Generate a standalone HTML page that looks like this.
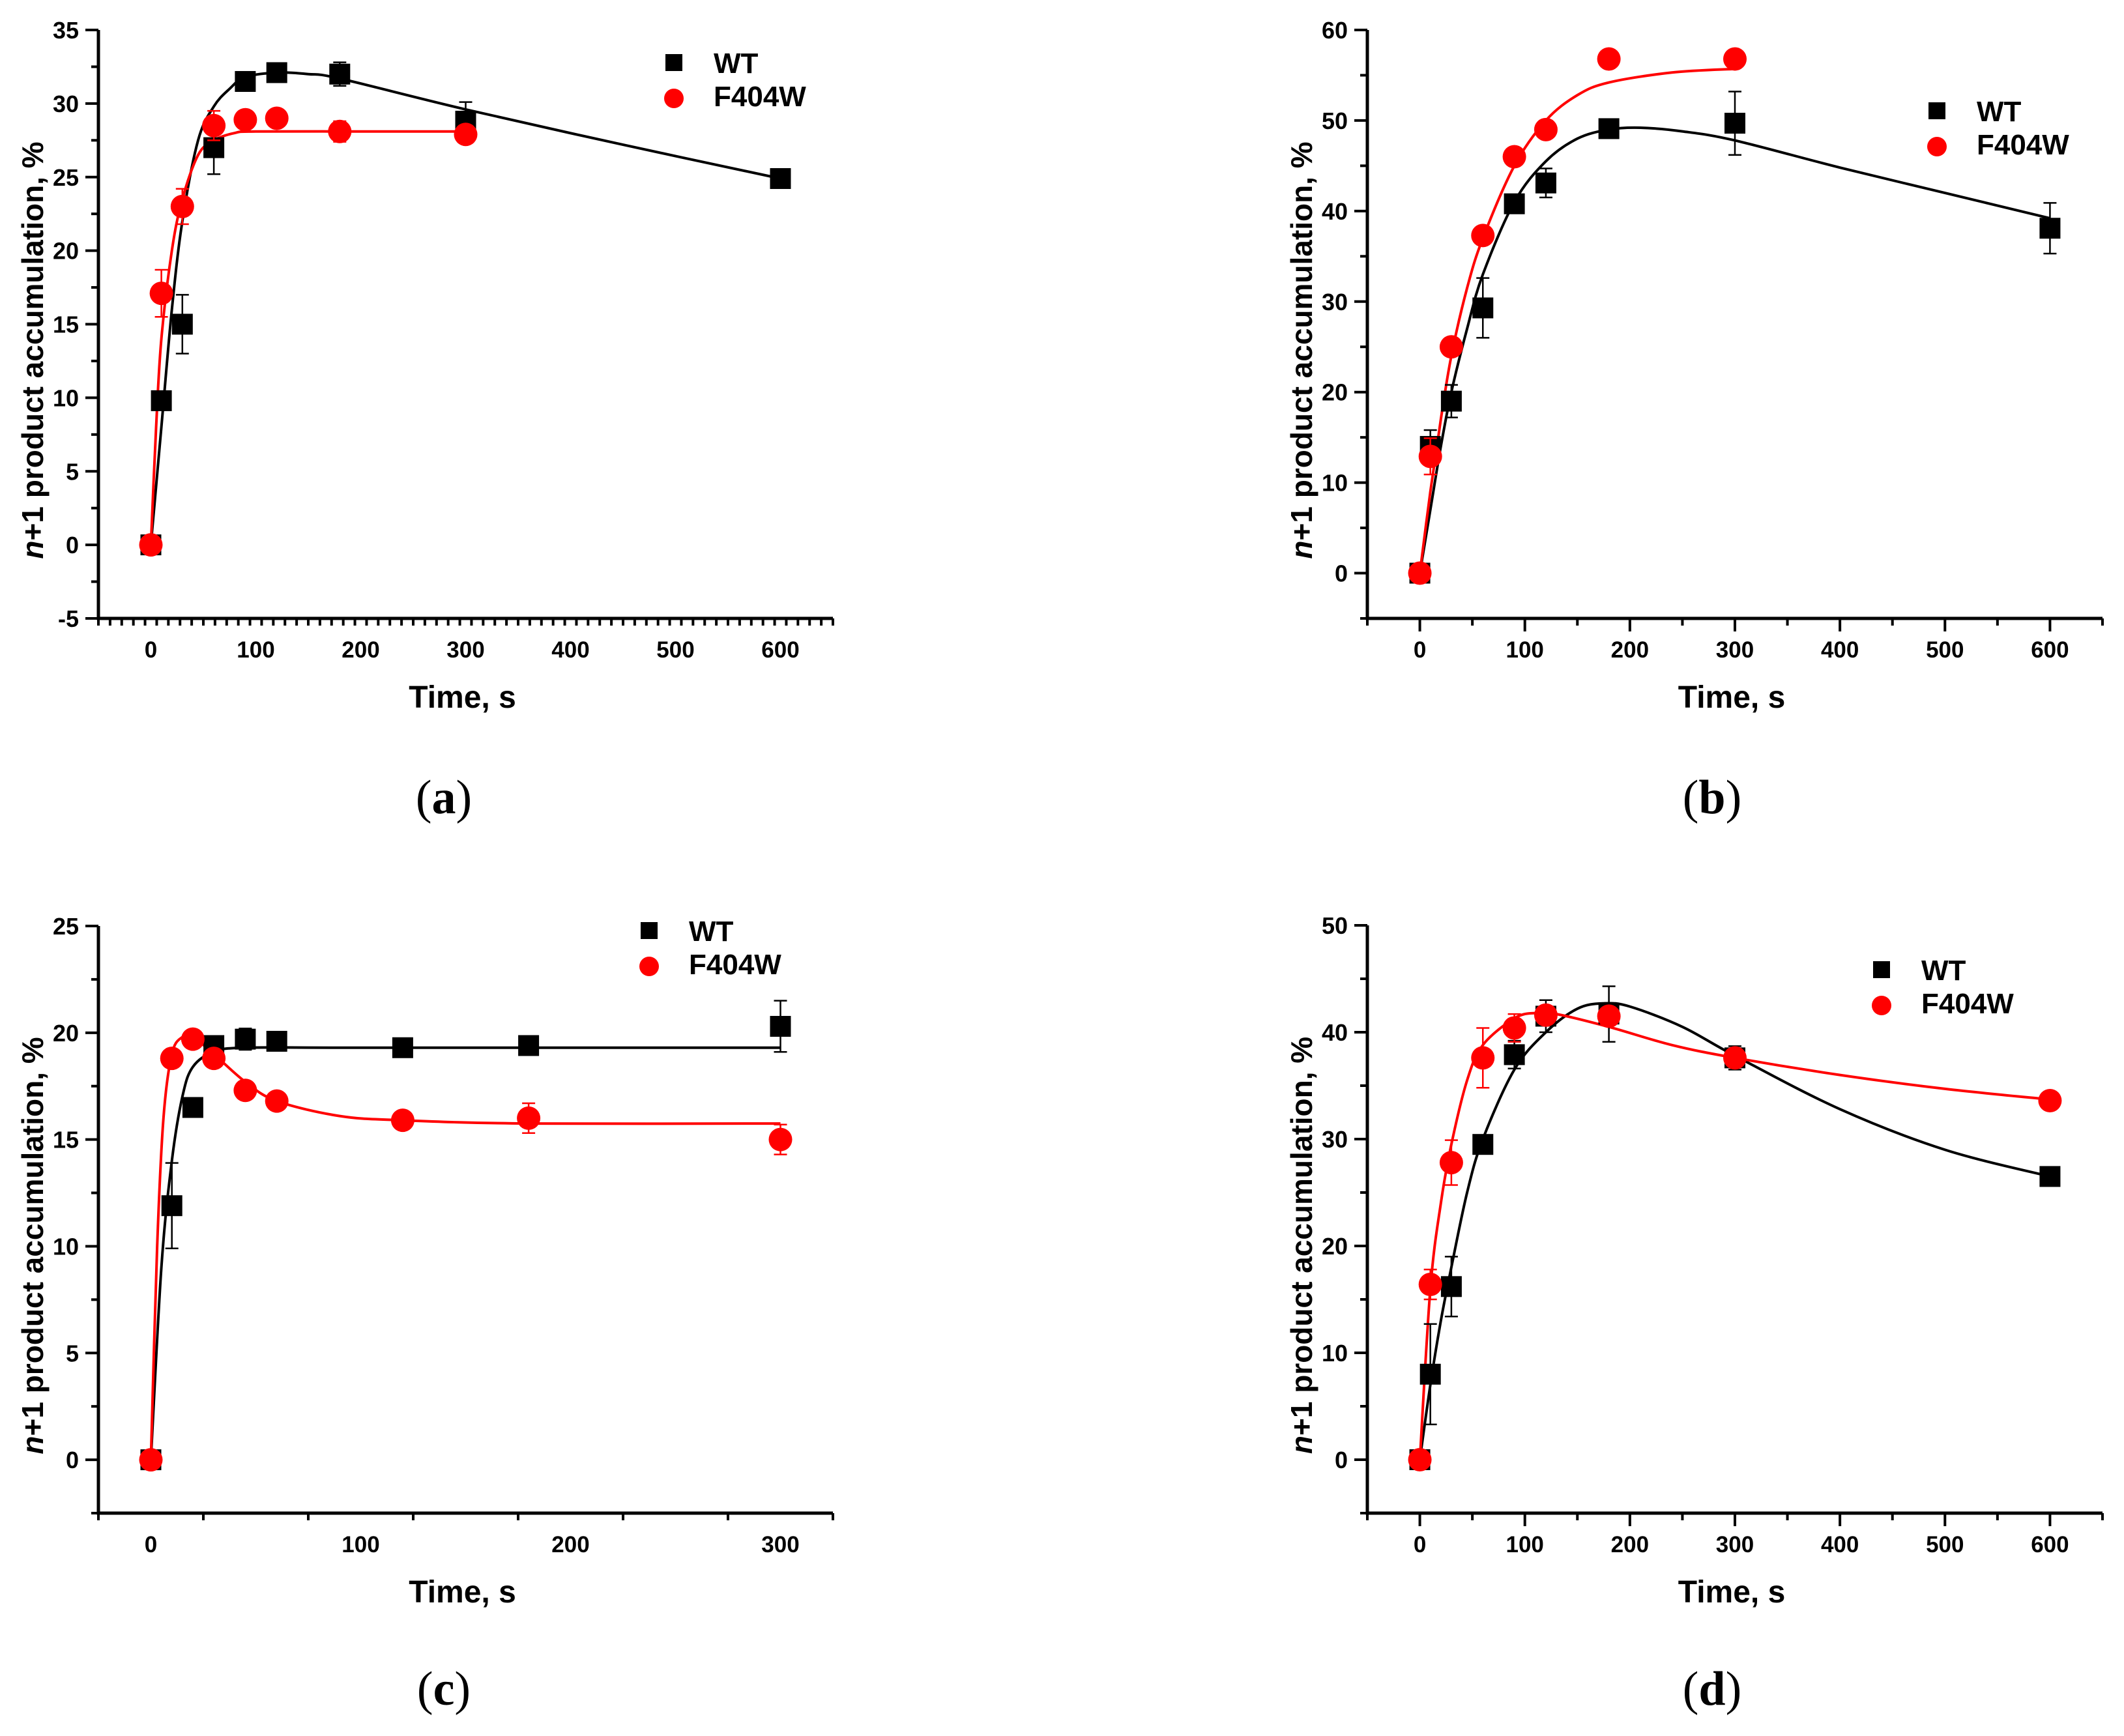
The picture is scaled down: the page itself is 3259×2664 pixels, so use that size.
<!DOCTYPE html>
<html><head><meta charset="utf-8"><style>
html,body{margin:0;padding:0;background:#fff}
svg{display:block}
text{font-family:"Liberation Sans",Arial,sans-serif;font-weight:bold}
.lab{font-family:"Liberation Serif",serif;font-weight:normal}
</style></head><body>
<svg id="fig" width="3259" height="2664" viewBox="0 0 3259 2664" xmlns="http://www.w3.org/2000/svg"></svg>
<script>
// ---- Panel (a) data ----
const aWT_t=[0,10,30,60,90,120,180,300,600];
const aWT_v=[0,9.8,15,27,31.5,32.1,32,28.8,24.9];
const aWT_e=[0,0,2,1.8,0,0,0.8,1.3,0];
const aF_t=[0,10,30,60,90,120,180,300];
const aF_v=[0,17.1,23,28.5,28.9,29,28.1,27.9];
const aF_e=[0,1.6,1.2,1,0.5,0,0.7,0];
const aWTfit_t=[0,10,20,30,45,60,75,90,120,150,180,300,450,600];
const aWTfit_v=[0,8,16,22,27.5,29.8,31,31.8,32.1,32,31.7,29.6,27.2,24.9];
const aFfit_t=[0,5,10,20,30,45,60,80,100,200,300];
const aFfit_v=[0,8,14,20,23.5,26.5,27.5,28,28.1,28.1,28.1];
// ---- Panel (b) data ----
const bWT_t=[0,10,30,60,90,120,180,300,600];
const bWT_v=[0,14,19,29.3,40.8,43.1,49.1,49.7,38.1];
const bWT_e=[0,1.8,1.8,3.3,0.5,1.6,0,3.5,2.8];
const bF_t=[0,10,30,60,90,120,180,300];
const bF_v=[0,12.9,25,37.3,46,49,56.8,56.8];
const bF_e=[0,2,0,0,0,0,0,0];
const bWTfit_t=[0,10,20,30,45,60,90,120,150,180,210,250,300,400,500,600];
const bWTfit_v=[0,7,14,20,27,33,41,45.5,48,49,49.2,48.8,47.8,44.8,42,39.2];
const bFfit_t=[0,10,20,30,45,60,90,120,150,180,240,300];
const bFfit_v=[0,9,17,24,31.5,37,45,50,52.8,54.2,55.3,55.7];
// ---- Panel (c) data ----
const cWT_t=[0,10,20,30,45,60,120,180,300];
const cWT_v=[0,11.9,16.5,19.4,19.7,19.6,19.3,19.4,20.3];
const cWT_e=[0,2,0,0,0.5,0,0,0,1.2];
const cF_t=[0,10,20,30,45,60,120,180,300];
const cF_v=[0,18.8,19.7,18.8,17.3,16.8,15.9,16,15];
const cF_e=[0,0,0,0,0,0,0,0.7,0.7];
const cWTfit_t=[0,5,10,15,20,30,45,100,300];
const cWTfit_v=[0,9,14,17,18.4,19.1,19.3,19.3,19.3];
const cFfit_t=[0,3,6,10,15,20,30,45,60,90,120,180,300];
const cFfit_v=[0,10,16,19,19.8,19.8,19,17.7,16.8,16.1,15.9,15.75,15.75];
// ---- Panel (d) data ----
const dWT_t=[0,10,30,60,90,120,180,300,600];
const dWT_v=[0,8,16.2,29.5,37.9,41.5,41.7,37.6,26.5];
const dWT_e=[0,4.7,2.8,0,1.3,1.5,2.6,1.1,0];
const dF_t=[0,10,30,60,90,120,180,300,600];
const dF_v=[0,16.4,27.8,37.6,40.4,41.6,41.5,37.6,33.6];
const dF_e=[0,1.4,2.1,2.8,1.3,0,0,0,0];
const dWTfit_t=[0,10,20,30,45,60,90,120,150,175,200,250,300,400,500,600];
const dWTfit_v=[0,7,13,18,25,30,36.5,40,42.2,42.7,42.4,40.5,37.8,32.8,29,26.5];
const dFfit_t=[0,10,20,30,45,60,90,110,130,180,240,300,400,500,600];
const dFfit_v=[0,16,24,29.5,35.5,38.8,41.3,41.8,41.7,40.5,38.8,37.6,36,34.7,33.7];
// axis ticks
const aYticks=[-5,0,5,10,15,20,25,30,35];
const bYticks=[0,10,20,30,40,50,60];
const cYticks=[0,5,10,15,20,25];
const dYticks=[0,10,20,30,40,50];
const xTicks600=[0,100,200,300,400,500,600];
const xTicks300=[0,100,200,300];

const NS="http://www.w3.org/2000/svg";
const svg=document.getElementById('fig');
function mk(tag,attrs,parent){const e=document.createElementNS(NS,tag);for(const k in attrs)e.setAttribute(k,attrs[k]);(parent||svg).appendChild(e);return e;}

function panel(P){
  const g=mk('g',{});
  
  
  const X=v=>P.x0+(v-P.xmin)/(P.xmax-P.xmin)*(P.x1-P.x0);
  const Y=v=>P.y0-(v-P.ymin)/(P.ymax-P.ymin)*(P.y0-P.y1);
  // axes
  const ax=mk('path',{d:`M${P.x0},${P.y1} V${P.y0} H${P.x1}`,stroke:'#000','stroke-width':5,fill:'none'},g);
  
  
  // y minor/major ticks
  for(let v=P.ymin;v<=P.ymax+1e-9;v+=P.yminor){
    const major=P.yticks.some(t=>Math.abs(t-v)<1e-6)||Math.abs(v-P.ymin)<1e-6&&P.ymajorAtMin;
    mk('line',{x1:P.x0,x2:P.x0-(major?20:11),y1:Y(v),y2:Y(v),stroke:'#000','stroke-width':4},g);
  }
  P.yticks.forEach(t=>{
    const tx=mk('text',{x:P.x0-30,y:Y(t)+13,'text-anchor':'end','font-size':36},g);
    tx.textContent=t;
    
    
  });
  for(let v=P.xmin;v<=P.xmax+1e-9;v+=P.xminor){
    const major=P.xticks.some(t=>Math.abs(t-v)<1e-6);
    mk('line',{x1:X(v),x2:X(v),y1:P.y0,y2:P.y0+(major?20:11),stroke:'#000','stroke-width':4},g);
  }
  P.xticks.forEach(t=>{
    const tx=mk('text',{x:X(t),y:P.y0+60,'text-anchor':'middle','font-size':35},g);
    tx.textContent=t;
    
    
  });
  const xt=mk('text',{x:(P.x0+P.x1)/2-5,y:P.y0+137,'text-anchor':'middle','font-size':48},g);
  xt.textContent='Time, s';
  
  
  const cy=(P.y0+P.y1)/2+40;
  const yt=mk('text',{x:0,y:0,'text-anchor':'middle','font-size':46,transform:`translate(${P.x0-85},${cy}) rotate(-90)`},g);
  yt.innerHTML='<tspan font-style="italic">n</tspan>+1 product accumulation, %';
  
  
  // fits
  function smooth(ts,vs){
    const pts=ts.map((t,i)=>[X(t),Y(vs[i])]);
    let d=`M${pts[0][0]},${pts[0][1]}`;
    for(let i=0;i<pts.length-1;i++){
      const p0=pts[Math.max(0,i-1)],p1=pts[i],p2=pts[i+1],p3=pts[Math.min(pts.length-1,i+2)];
      const c1=[p1[0]+(p2[0]-p0[0])/6,p1[1]+(p2[1]-p0[1])/6];
      const c2=[p2[0]-(p3[0]-p1[0])/6,p2[1]-(p3[1]-p1[1])/6];
      d+=` C${c1[0]},${c1[1]} ${c2[0]},${c2[1]} ${p2[0]},${p2[1]}`;
    }
    return d;
  }
  const fw=mk('path',{d:smooth(P.wtFitT,P.wtFitV),stroke:'#000','stroke-width':4,fill:'none'},g);
  
  
  const ff=mk('path',{d:smooth(P.fFitT,P.fFitV),stroke:'#f00','stroke-width':4,fill:'none'},g);
  
  
  // error bars + markers
  function errbars(ts,vs,es,col){
    ts.forEach((t,i)=>{ if(es[i]>0){
      const x=X(t);
      mk('path',{d:`M${x},${Y(vs[i]-es[i])} V${Y(vs[i]+es[i])} M${x-10},${Y(vs[i]-es[i])} h20 M${x-10},${Y(vs[i]+es[i])} h20`,stroke:col,'stroke-width':2.5,fill:'none'},g);
    }});
  }
  errbars(P.wtT,P.wtV,P.wtE,'#000');
  P.wtT.forEach((t,i)=>{
    const r=mk('rect',{x:X(t)-16,y:Y(P.wtV[i])-16,width:32,height:32,fill:'#000'},g);
    
    
  });
  errbars(P.fT,P.fV,P.fE,'#f00');
  P.fT.forEach((t,i)=>{
    const c=mk('circle',{cx:X(t),cy:Y(P.fV[i]),r:18,fill:'#f00'},g);
    
    
  });
  // legend
  const lg=mk('g',{},g);
  
  
  mk('rect',{x:P.lx-13,y:P.ly-13,width:26,height:26,fill:'#000'},lg);
  mk('circle',{cx:P.lx,cy:P.ly+55,r:15,fill:'#f00'},lg);
  const l1=mk('text',{x:P.lx+61,y:P.ly+16,'font-size':44},lg);l1.textContent='WT';
  
  
  const l2=mk('text',{x:P.lx+61,y:P.ly+67,'font-size':44},lg);l2.textContent='F404W';
  
  
  // panel label
  const pl=mk('text',{x:P.labX,y:P.labY,'text-anchor':'middle','font-size':74,class:'lab'},g);
  pl.innerHTML='(<tspan font-weight="bold">'+P.id+'</tspan>)';
  
  
}

panel({id:'a',x0:151,x1:1278,y0:949,y1:46,xmin:-50,xmax:650,ymin:-5,ymax:35,xticks:xTicks600,xminor:100/9,yticks:aYticks,yminor:2.5,
  wtT:aWT_t,wtV:aWT_v,wtE:aWT_e,fT:aF_t,fV:aF_v,fE:aF_e,wtFitT:aWTfit_t,wtFitV:aWTfit_v,fFitT:aFfit_t,fFitV:aFfit_v,lx:1034,ly:96,labX:681,labY:1248});
panel({id:'b',x0:2098,x1:3226,y0:949,y1:46,xmin:-50,xmax:650,ymin:-5,ymax:60,xticks:xTicks600,xminor:50,yticks:bYticks,yminor:5,
  wtT:bWT_t,wtV:bWT_v,wtE:bWT_e,fT:bF_t,fV:bF_v,fE:bF_e,wtFitT:bWTfit_t,wtFitV:bWTfit_v,fFitT:bFfit_t,fFitV:bFfit_v,lx:2972,ly:170,labX:2627,labY:1248});
panel({id:'c',x0:151,x1:1278,y0:2322,y1:1421,xmin:-25,xmax:325,ymin:-2.5,ymax:25,xticks:xTicks300,xminor:50,yticks:cYticks,yminor:2.5,
  wtT:cWT_t,wtV:cWT_v,wtE:cWT_e,fT:cF_t,fV:cF_v,fE:cF_e,wtFitT:cWTfit_t,wtFitV:cWTfit_v,fFitT:cFfit_t,fFitV:cFfit_v,lx:996,ly:1428,labX:681,labY:2616});
panel({id:'d',x0:2098,x1:3226,y0:2322,y1:1420,xmin:-50,xmax:650,ymin:-5,ymax:50,xticks:xTicks600,xminor:50,yticks:dYticks,yminor:5,
  wtT:dWT_t,wtV:dWT_v,wtE:dWT_e,fT:dF_t,fV:dF_v,fE:dF_e,wtFitT:dWTfit_t,wtFitV:dWTfit_v,fFitT:dFfit_t,fFitV:dFfit_v,lx:2887,ly:1488,labX:2627,labY:2616});
</script>
</body></html>
